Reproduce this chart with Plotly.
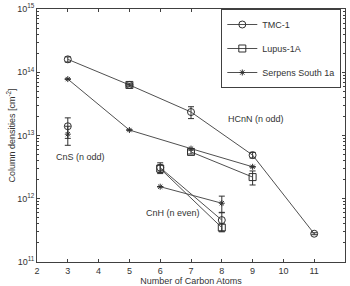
import math
import plotly.graph_objects as go

# ---- data (number of carbon atoms, column densities in cm^-2) ----
# TMC-1
tmc_hcnn_x = [3, 5, 7, 9, 11]
tmc_hcnn_y = [1.6e14, 6.3e13, 2.35e13, 4.9e12, 2.8e11]
tmc_hcnn_e = [1.5e13, 4e12, 5e12, 5e11, 1e10]
tmc_cns_x = [3]
tmc_cns_y = [1.4e13]
tmc_cns_e = [5e12]
tmc_cnh_x = [6, 8]
tmc_cnh_y = [3.1e12, 4.6e11]
tmc_cnh_e = [6e11, 1.5e11]

# Lupus-1A
lup_hc5n_x = [5]
lup_hc5n_y = [6.3e13]
lup_hc5n_e = [0]
lup_hcnn_x = [7, 9]
lup_hcnn_y = [5.5e12, 2.2e12]
lup_hcnn_e = [4e11, 5.5e11]
lup_cnh_x = [6, 8]
lup_cnh_y = [3.0e12, 3.5e11]
lup_cnh_e = [4e11, 5e10]

# Serpens South 1a
ser_hcnn_x = [3, 5, 7, 9]
ser_hcnn_y = [7.8e13, 1.22e13, 6.2e12, 3.2e12]
ser_hcnn_e = [0, 0, 0, 0]
ser_cns_x = [3]
ser_cns_y = [1.05e13]
ser_cns_e = [3.5e12]
ser_cnh_x = [6, 8]
ser_cnh_y = [1.55e12, 8.5e11]
ser_cnh_e = [0, 2.5e11]

series_names = ["TMC-1", "Lupus-1A", "Serpens South 1a"]
family_labels = ["HCnN (n odd)", "CnS (n odd)", "CnH (n even)"]
family_label_x = [9.1, 3.4, 6.42]
family_label_y = [1.8e13, 4.6e12, 6.0e11]

x_ticks = list(range(2, 13))
y_ticks = [1e11, 1e12, 1e13, 1e14, 1e15]
y_tick_text = ["10<sup>11</sup>", "10<sup>12</sup>", "10<sup>13</sup>",
               "10<sup>14</sup>", "10<sup>15</sup>"]


def join(*parts):
    xs, ys, es = [], [], []
    for i, (x, y, e) in enumerate(parts):
        if i > 0:
            xs.append(None); ys.append(None); es.append(None)
        xs += x; ys += y; es += e
    return xs, ys, es


line_col = "#505050"
mk_col = "#303030"

series = [
    (series_names[0], join((tmc_hcnn_x, tmc_hcnn_y, tmc_hcnn_e),
                           (tmc_cns_x, tmc_cns_y, tmc_cns_e),
                           (tmc_cnh_x, tmc_cnh_y, tmc_cnh_e)),
     dict(symbol="circle-open", size=7)),
    (series_names[1], join((lup_hc5n_x, lup_hc5n_y, lup_hc5n_e),
                           (lup_hcnn_x, lup_hcnn_y, lup_hcnn_e),
                           (lup_cnh_x, lup_cnh_y, lup_cnh_e)),
     dict(symbol="square-open", size=7)),
    (series_names[2], join((ser_hcnn_x, ser_hcnn_y, ser_hcnn_e),
                           (ser_cns_x, ser_cns_y, ser_cns_e),
                           (ser_cnh_x, ser_cnh_y, ser_cnh_e)),
     dict(symbol="asterisk-open", size=5)),
]

fig = go.Figure()
for i, (name, (xs, ys, es), mk) in enumerate(series):
    fig.add_trace(go.Scatter(
        x=xs, y=ys, name=name, mode="lines+markers",
        connectgaps=False, legendgroup=f"g{i}",
        line=dict(color=line_col, width=1),
        marker=dict(color=mk_col, line=dict(color=mk_col, width=1), **mk),
        error_y=dict(type="data", array=es, visible=True, color=mk_col,
                     thickness=1, width=3),
    ))

for t, x, y in zip(family_labels, family_label_x, family_label_y):
    fig.add_annotation(x=x, y=math.log10(y), yref="y", xref="x", text=t,
                       showarrow=False, font=dict(size=9, color="#333333"))

minor_vals = [m * 10 ** d for d in range(11, 15) for m in range(2, 10)]

fig.update_layout(
    width=350, height=286,
    margin=dict(l=37, r=5, t=9, b=24),
    paper_bgcolor="white", plot_bgcolor="white",
    font=dict(family="Liberation Sans, Arial, sans-serif", size=9, color="#333333"),
    showlegend=True,
    legend=dict(x=0.988, y=1.0, xanchor="right", yanchor="top",
                bgcolor="white", bordercolor="#404040", borderwidth=1,
                font=dict(size=9), tracegroupgap=5,
                itemwidth=30),
    xaxis=dict(range=[2, 12], tickvals=x_ticks, ticks="inside", ticklen=3,
               showgrid=False, zeroline=False, showline=True, mirror="ticks",
               linecolor="#404040", linewidth=1, tickcolor="#404040",
               automargin=False,
               title=dict(text="Number of Carbon Atoms", standoff=0,
                          font=dict(size=9))),
    yaxis=dict(type="log", range=[11, 15], tickvals=y_ticks, ticktext=y_tick_text,
               ticks="inside", ticklen=3, showgrid=False, zeroline=False,
               showline=True, mirror="ticks", linecolor="#404040", linewidth=1,
               tickcolor="#404040", automargin=False,
               minor=dict(tickvals=minor_vals, ticks="inside", ticklen=2,
                          tickcolor="#404040", showgrid=False),
               title=dict(text="Column densities [cm<sup>-2</sup>]", standoff=0,
                          font=dict(size=9))),
)

fig.write_html("out.html",
               config={"displayModeBar": False},
               post_script="document.body.style.margin='0';"
                           "document.body.style.overflow='hidden';")
